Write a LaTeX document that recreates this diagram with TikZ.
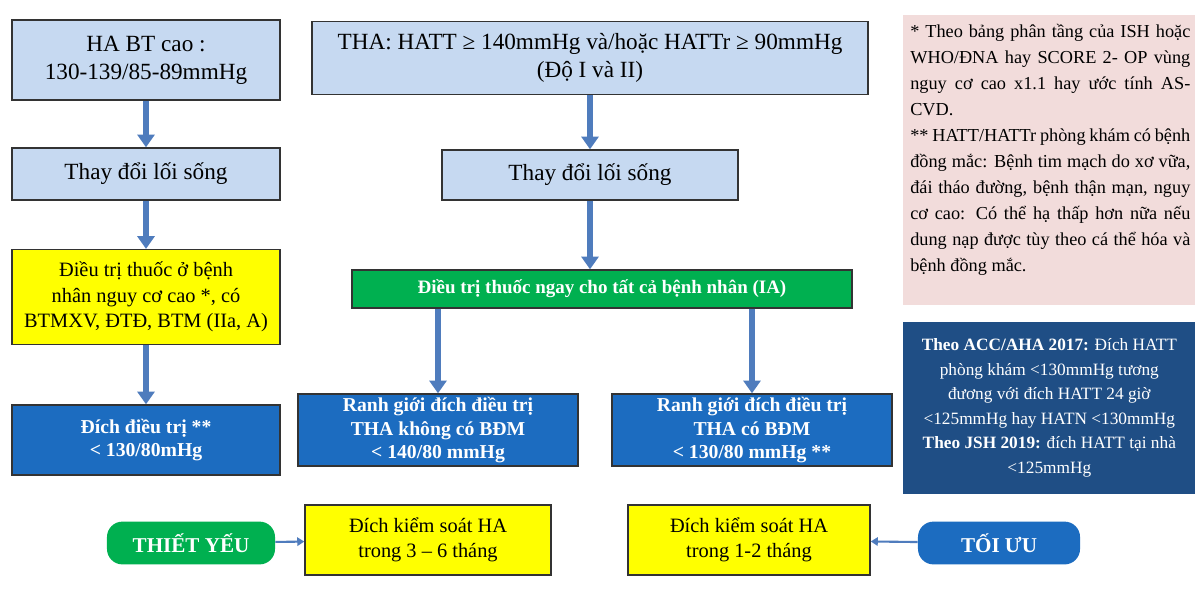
\documentclass[tikz,border=0pt]{standalone}
\usepackage{fontspec}
\setmainfont{Liberation Serif}
\usetikzlibrary{arrows.meta,positioning}
\definecolor{lb}{HTML}{C6D9F1}
\definecolor{gr}{HTML}{00B050}
\definecolor{bl}{HTML}{1C6CC0}
\definecolor{pk}{HTML}{F2DCDB}
\definecolor{nv}{HTML}{1F4E85}
\definecolor{ar}{HTML}{4F7CBD}
\definecolor{yl}{HTML}{FFFF00}
\begin{document}
\begin{tikzpicture}[x=0.025cm,y=-0.025cm,
  box/.style={draw=black!80,line width=1pt,align=center,inner sep=2pt},
  light/.style={box,fill=lb,font=\fontsize{16.5}{20}\selectfont},
  yel/.style={box,fill=yl,font=\fontsize{14.5}{18}\selectfont},
  dark/.style={box,fill=bl,text=white,font=\bfseries\fontsize{14}{16.5}\selectfont},
  pill/.style={rounded corners=11pt,text=white,font=\bfseries\fontsize{15}{18}\selectfont,minimum width=4.2cm,minimum height=1.07cm},
  fat/.style={draw=ar,line width=4.5pt,-{Triangle[length=9pt,width=12pt]}},
  thin/.style={draw=ar,line width=1.5pt,-{Triangle[length=5pt,width=6pt]}}]
\path[fill=white] (0,0) rectangle (1200,600);
\node[light,minimum width=6.7cm,minimum height=2cm] (a1) at (146,60) {HA BT cao :\\130-139/85-89mmHg};
\node[light,minimum width=13.9cm,minimum height=1.82cm] (b1) at (590,58) {THA: HATT ≥ 140mmHg và/hoặc HATTr ≥ 90mmHg\\(Độ I và II)};
\node[light,minimum width=6.7cm,minimum height=1.3cm] (a2) at (146,174) {Thay đổi lối sống};
\node[light,minimum width=7.4cm,minimum height=1.25cm] (b2) at (590,175) {Thay đổi lối sống};
\node[yel,minimum width=6.7cm,minimum height=2.37cm] (a3) at (146,297) {Điều trị thuốc ở bệnh\\nhân nguy cơ cao *, có\\BTMXV, ĐTĐ, BTM (IIa, A)};
\node[box,fill=gr,text=white,font=\bfseries\fontsize{13.5}{16}\selectfont,minimum width=12.5cm,minimum height=0.95cm] (b3) at (602,289) {Điều trị thuốc ngay cho tất cả bệnh nhân (IA)};
\node[dark,minimum width=6.7cm,minimum height=1.75cm] (a4) at (146,440) {Đích điều trị **\\< 130/80mHg};
\node[dark,minimum width=7cm,minimum height=1.8cm] (b4a) at (438,430) {Ranh giới đích điều trị\\THA không có BĐM\\< 140/80 mmHg};
\node[dark,minimum width=7cm,minimum height=1.8cm] (b4b) at (752,430) {Ranh giới đích điều trị\\THA có BĐM\\< 130/80 mmHg **};
\fill[pk] (903,15) rectangle (1195,305);
\node[text width=7cm,align=justify,inner sep=0pt,font=\fontsize{13}{18.5}\selectfont,anchor=north west] (note) at (910,24) {* Theo bảng phân tầng của ISH hoặc WHO/ĐNA hay SCORE 2- OP vùng nguy cơ cao x1.1 hay ước tính ASCVD.\\{}** HATT/HATTr phòng khám có bệnh đồng mắc: Bệnh tim mạch do xơ vữa, đái tháo đường, bệnh thận mạn, nguy cơ cao: Có thể hạ thấp hơn nữa nếu dung nạp được tùy theo cá thể hóa và bệnh đồng mắc.};
\node[fill=nv,text=white,minimum width=7.3cm,align=center,inner sep=3pt,font=\fontsize{12.3}{17.5}\selectfont,minimum height=4.28cm,anchor=north west] (acc) at (903,322) {\textbf{Theo ACC/AHA 2017:} Đích HATT\\phòng khám <130mmHg tương\\đương với đích HATT 24 giờ\\<125mmHg hay HATN <130mmHg\\\textbf{Theo JSH 2019:} đích HATT tại nhà\\<125mmHg};
\node[pill,fill=gr] (ty) at (191,543) {THIẾT YẾU};
\node[yel,minimum width=6.15cm,minimum height=1.75cm] (y1) at (428,540) {Đích kiểm soát HA\\trong 3 – 6 tháng};
\node[yel,minimum width=6.05cm,minimum height=1.75cm] (y2) at (749,540) {Đích kiểm soát HA\\trong 1-2 tháng};
\node[pill,fill=bl,minimum width=4.05cm] (tu) at (999,543) {TỐI ƯU};
\draw[fat] (a1) -- (a2);
\draw[fat] (a2) -- (a3);
\draw[fat] (a3) -- (a4);
\draw[fat] (b1) -- (b2);
\draw[fat] (b2.south) -- (b2.south|-b3.north);
\draw[fat] (b3.south-|b4a) -- (b4a);
\draw[fat] (b3.south-|b4b) -- (b4b);
\draw[thin] (ty) -- (y1);
\draw[thin] (tu) -- (y2);
\end{tikzpicture}
\end{document}
